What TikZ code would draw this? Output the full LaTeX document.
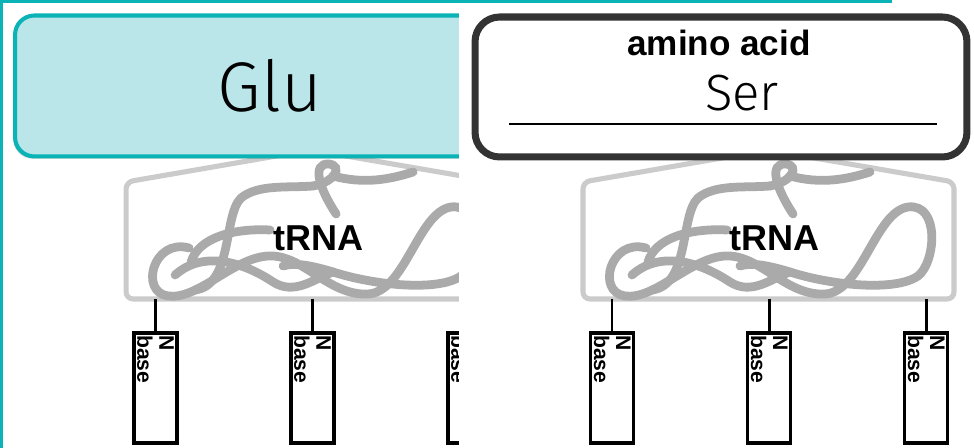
\documentclass[tikz,border=0pt]{standalone}
\usepackage{fontspec}
\setmainfont{Liberation Sans}
\newfontfamily\handfont{Fira Sans Light}
\usetikzlibrary{positioning,shadows}

\definecolor{tealline}{HTML}{0AB3B6}
\definecolor{tealfill}{HTML}{BAE6E9}
\definecolor{framegray}{HTML}{333333}
\definecolor{hullgray}{HTML}{CBCBCB}
\definecolor{coilgray}{HTML}{AAAAAA}

\tikzset{
  hull/.style={draw=hullgray, line width=2.9pt, rounded corners=4pt},
  coil/.style={draw=coilgray, line width=5pt, line cap=round},
  stem/.style={line width=1.7pt},
  basebox/.style={draw, line width=2.2pt, minimum width=0.86cm, minimum height=2.2cm, inner sep=0pt},
  basetext/.style={rotate=-90, anchor=north west, align=left, inner sep=1pt,
    font=\bfseries\fontsize{12}{12.5}\selectfont},
  boxshadow/.style={drop shadow={opacity=.4, shadow xshift=-1pt, shadow yshift=-1.2pt}},
}

% one tRNA with its three bases; #1 = shift, #2 = name prefix
\newcommand\trnaunit[2]{%
\begin{scope}[xshift=#1]
  \draw[hull] (583,299) -- (954,299) -- (954,182) -- (768,150) -- (583,182) -- cycle;
  % the folded strand
  \draw[coil] (646,248) .. controls (610,238) and (596,292) .. (625,296)
    .. controls (655,300) and (690,258) .. (725,256)
    .. controls (760,254) and (785,296) .. (825,294)
    .. controls (862,292) and (875,212) .. (908,207)
    .. controls (940,203) and (936,262) .. (918,276)
    .. controls (895,292) and (830,285) .. (790,272)
    .. controls (770,266) and (752,262) .. (740,266);
  \draw[coil] (632,275) .. controls (660,250) and (700,262) .. (730,282)
    .. controls (752,296) and (772,278) .. (790,272);
  \draw[coil] (652,290) .. controls (690,285) and (680,215) .. (698,198)
    .. controls (715,184) and (745,188) .. (770,186);
  \draw[coil] (648,262) .. controls (655,238) and (690,228) .. (727,230);
  \draw[coil] (770,186) .. controls (792,182) and (800,166) .. (786,164)
    .. controls (768,163) and (776,188) .. (793,214);
  \draw[coil] (790,176) .. controls (820,184) and (845,180) .. (870,172);
  \node[font=\bfseries\fontsize{20.5}{20.5}\selectfont] (#2trna) at (775,238) {tRNA};
  % bases hanging below
  \foreach \i/\x in {1/612, 2/769, 3/926} {
    \coordinate (#2s\i) at (\x,299);
    \node[basebox, anchor=north] (#2b\i) at (\x,331) {};
    \node[basetext] (#2t\i) at ([xshift=-1.5pt,yshift=-1.2pt]#2b\i.north east) {N\\base};
    \draw[stem] (#2s\i) -- (#2b\i.north);
  }
\end{scope}}

\begin{document}
\begin{tikzpicture}[x=0.02cm, y=-0.02cm]
  \useasboundingbox (0,0) rectangle (974,448);

  % slide underneath
  \trnaunit{-9.14cm}{L}
  \node[draw=tealline, fill=tealfill, line width=2.3pt, rounded corners=11pt,
    minimum width=10.2cm, minimum height=2.82cm, boxshadow] (glu) at (270,86)
    {\handfont\fontsize{40}{40}\selectfont Glu};

  % slide on top
  \fill[white] (459,0) rectangle (974,448);
  \trnaunit{0cm}{R}
  \node[draw=framegray, fill=white, line width=4pt, rounded corners=14pt,
    minimum width=9.84cm, minimum height=2.8cm, boxshadow] (aa) at (721,87) {};
  \node[font=\bfseries\fontsize{20}{20}\selectfont] (aalabel) at (719,43) {amino acid};
  \node[font=\handfont\fontsize{29}{29}\selectfont] (ser) at (742,93) {Ser};
  \coordinate (lineA) at (509,124);
  \coordinate (lineB) at (937,124);
  \draw[line width=1.2pt] (lineA) -- (lineB);

  % teal frame
  \draw[tealline, line width=1.8pt] (1.5,448) -- (1.5,1.5) -- (892,1.5);
\end{tikzpicture}
\end{document}
